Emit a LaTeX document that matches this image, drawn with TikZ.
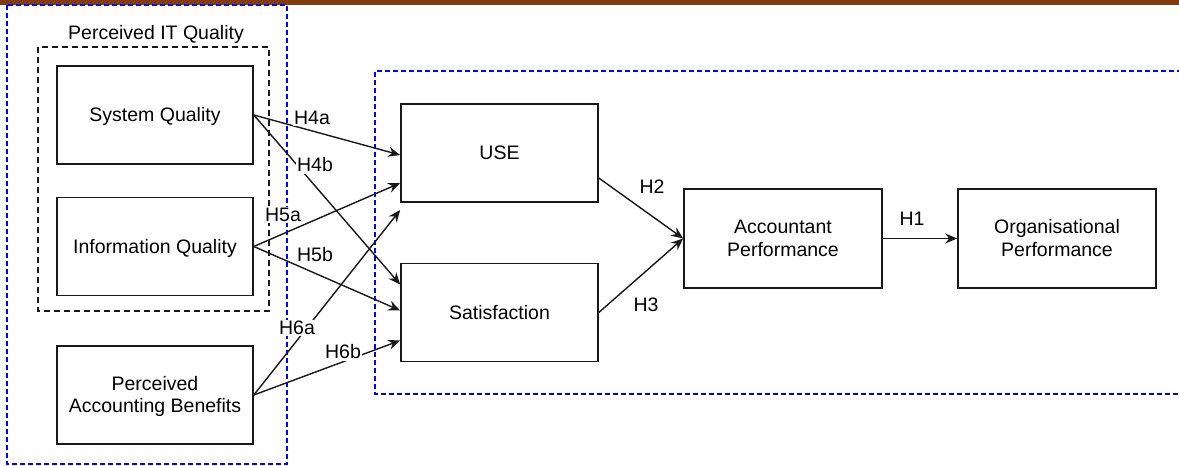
\documentclass[tikz,border=0pt]{standalone}
\usepackage{fontspec}
\setmainfont{Liberation Sans}
\usetikzlibrary{arrows.meta}
\definecolor{barbrown}{HTML}{843C0C}
\definecolor{dashblue}{HTML}{0000FF}
\newcommand\boxtxt[1]{\raisebox{-2pt}[\height][\depth]{\begin{tabular}{@{}c@{}}#1\end{tabular}}}
\begin{document}
\begin{tikzpicture}[x=1pt,y=-1pt,
  font=\fontsize{19.5}{22.5}\selectfont,
  box/.style={draw=black!90, line width=1.6pt, fill=white, minimum width=196pt, minimum height=98pt, inner sep=0pt},
  bluebox/.style={draw=dashblue, line width=1.2pt, dash pattern=on 5pt off 3pt},
  blackbox/.style={draw=black!90, line width=1.2pt, dash pattern=on 6pt off 4pt},
  conn/.style={draw=black!90, line width=1.4pt, -{Stealth[length=12pt,width=10pt,inset=4pt]}},
  lbl/.style={fill=white, inner sep=1.5pt, text=black}
]
\useasboundingbox (0,0) rectangle (1179,466);
% top bar
\fill[barbrown] (0,0) rectangle (1179,4.5);
% containers
\draw[bluebox] (7,5) rectangle (287,464);
\draw[bluebox] (1182,71) -- (375,71) -- (375,394) -- (1182,394);
\draw[blackbox] (38,47) rectangle (269,311);
\node (itq) at (156,34) {Perceived IT Quality};
% boxes
\node[box] (sys) at (155,115) {\boxtxt{System Quality}};
\node[box] (info) at (155,246.5) {\boxtxt{Information Quality}};
\node[box] (pab) at (155,395) {\boxtxt{Perceived\\Accounting Benefits}};
\node[box, minimum width=197pt] (use) at (499.5,153) {\boxtxt{USE}};
\node[box, minimum width=197pt] (sat) at (499.5,312.5) {\boxtxt{Satisfaction}};
\node[box, minimum width=198pt, minimum height=99pt] (ap) at (783,238.5) {\boxtxt{Accountant\\Performance}};
\node[box, minimum width=198pt, minimum height=99pt] (op) at (1057,238.5) {\boxtxt{Organisational\\Performance}};
% connectors
\draw[conn] (sys.east) -- ([yshift=-2pt]use.west);
\draw[conn] (sys.east) -- ([yshift=28pt]sat.west);
\draw[conn] (info.east) -- ([yshift=-30pt]use.west);
\draw[conn] (info.east) -- ([yshift=2pt]sat.west);
\draw[conn] (pab.east) -- ([yshift=-57pt]use.west);
\draw[conn] (pab.east) -- ([yshift=-28pt]sat.west);
\draw[conn] ([yshift=-25pt]use.east) -- (ap.west);
\draw[conn] (sat.east) -- (ap.west);
\draw[conn] (ap.east) -- (op.west);
% labels
\node[lbl] (h4a) at (312,118) {H4a};
\node[lbl] (h4b) at (315,165) {H4b};
\node[lbl] (h5a) at (283,215) {H5a};
\node[lbl] (h5b) at (315,255) {H5b};
\node[lbl] (h6a) at (297,328) {H6a};
\node[lbl] (h6b) at (343,352) {H6b};
\node[lbl] (h2) at (652,187) {H2};
\node[lbl] (h3) at (646,305) {H3};
\node[lbl] (h1) at (912,219) {H1};
\end{tikzpicture}
\end{document}
